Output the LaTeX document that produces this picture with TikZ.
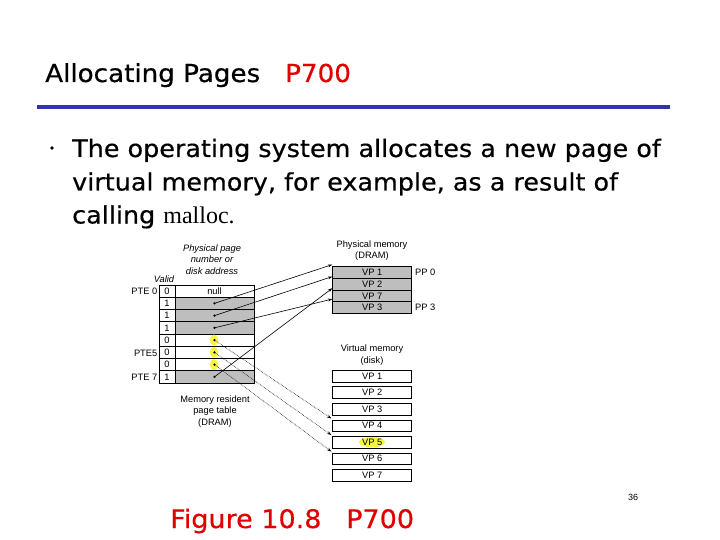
\documentclass[tikz,border=0pt]{standalone}
\usepackage{fontspec}
\newfontfamily\figfont{Liberation Sans}
\newfontfamily\comic[FakeStretch=1.06,FakeBold=0.5]{DejaVu Sans}
\newfontfamily\timesf{Liberation Serif}
\usetikzlibrary{arrows.meta,calc}
\definecolor{slideblue}{RGB}{51,51,170}
\definecolor{slidered}{RGB}{225,0,0}
\definecolor{cellgray}{RGB}{190,190,190}
\definecolor{hiyellow}{RGB}{245,245,70}
\begin{document}
\begin{tikzpicture}[x=1pt,y=-1pt,
  cell/.style={draw=black, line width=0.6pt, inner sep=0pt, minimum height=12.25pt, font=\figfont\fontsize{9.3}{10}\selectfont},
  vcell/.style={cell, minimum width=16pt},
  pcell/.style={cell, minimum width=79pt},
  mcell/.style={cell, minimum width=79pt, minimum height=11.65pt, fill=cellgray},
  dcell/.style={cell, minimum width=79pt, minimum height=11.7pt},
  lbl/.style={font=\figfont\fontsize{9.3}{11.5}\selectfont, align=center, inner sep=0pt},
  ilbl/.style={font=\figfont\itshape\fontsize{9.3}{11.5}\selectfont, align=center, inner sep=0pt},
  solidarrow/.style={-{Stealth[length=4.5pt,width=3pt]}, line width=0.6pt},
  dotarrow/.style={solidarrow, densely dotted},
  slidetext/.style={font=\comic\fontsize{24}{28}\selectfont, inner sep=0pt, anchor=base west},
  titletext/.style={slidetext, font=\comic\fontsize{24.7}{28}\selectfont},
  captext/.style={slidetext, font=\comic\fontsize{25.5}{28}\selectfont, text=slidered},
]
\useasboundingbox (0,0) rectangle (720,540);

% title
\node[titletext] (title) at (45,82) {Allocating Pages};
\node[titletext, text=slidered] (titlep) at (285,82) {P700};
\draw[slideblue, line width=4pt] (37,107) -- (670,107);

% bullet
\fill (52,148) circle (1.8pt);
\node[slidetext] (l1) at (72,157) {The operating system allocates a new page of};
\node[slidetext] (l2) at (72,190.5) {virtual memory, for example, as a result of};
\node[slidetext] (l3) at (72,223.5) {calling {\timesf malloc.}};

% page table
\foreach \k/\v/\g in {0/0/white,1/1/cellgray,2/1/cellgray,3/1/cellgray,4/0/white,5/0/white,6/0/white,7/1/cellgray}{
  \node[vcell] (v\k) at (167,{291.1+12.25*\k}) {\v};
  \node[pcell, fill=\g] (p\k) at (214.5,{291.1+12.25*\k}) {};
}
\node[cell, draw=none] (null) at (p0) {null};
\foreach \k in {4,5,6}{
  \fill[hiyellow] ($(p\k.center)+(-0.5,0)$) ellipse (4.2pt and 5.6pt);
}
\foreach \k in {1,...,7}{
  \fill (p\k.center) circle (1.3pt);
}

\node[ilbl] (valid) at (164,279) {Valid};
\node[ilbl] (ppn) at (212,259.5) {Physical page\\number or\\disk address};
\node[lbl, anchor=east] (pte0) at (157.5,291.1) {PTE 0};
\node[lbl, anchor=east] (pte5) at (157.5,353.6) {PTE5};
\node[lbl, anchor=east] (pte7) at (157.5,377.6) {PTE 7};
\node[lbl] (mrpt) at (215,411.5) {Memory resident\\page table\\(DRAM)};

% physical memory
\node[lbl] (pmlbl) at (372,250.5) {Physical memory\\(DRAM)};
\foreach \n/\t [count=\i from 0] in {m1/VP 1,m2/VP 2,m7/VP 7,m3/VP 3}{
  \node[mcell] (\n) at (372.2,{272.5+11.65*\i}) {\t};
}
\node[lbl, anchor=west] (pp0) at (415,272.5) {PP 0};
\node[lbl, anchor=west] (pp3) at (415,307.5) {PP 3};

% virtual memory
\node[lbl] (vmlbl) at (372,355) {Virtual memory\\(disk)};
\foreach \k in {1,...,7}{
  \node[dcell] (d\k) at (372.2,{376+16.55*(\k-1)}) {};
}
\fill[hiyellow] (372,442.2) ellipse (13pt and 5.2pt);
\foreach \k in {1,...,7}{
  \node[cell, draw=none] (dt\k) at (d\k) {VP \k};
}

% arrows
\draw[solidarrow] (p1.center) -- ($(m1.north west)+(0,-1.8)$);
\draw[solidarrow] (p2.center) -- ($(m2.north west)+(0,-1.5)$);
\draw[solidarrow] (p3.center) -- ($(m3.north west)+(0,-2.3)$);
\draw[solidarrow] (p7.center) -- ($(m7.north west)+(0,-1.5)$);
\draw[dotarrow] (p4.center) -- ($(d4.north west)+(-1,-1)$);
\draw[dotarrow] (p5.center) -- ($(d5.north west)+(-1,-1)$);
\draw[dotarrow] (p6.center) -- ($(d6.north west)+(-1,-1)$);

% caption and page number
\node[captext] (cap) at (170,528) {Figure 10.8};
\node[captext] (capp) at (346,528) {P700};
\node[font=\figfont\fontsize{9}{10}\selectfont] (pg) at (633,497) {36};
\end{tikzpicture}
\end{document}
